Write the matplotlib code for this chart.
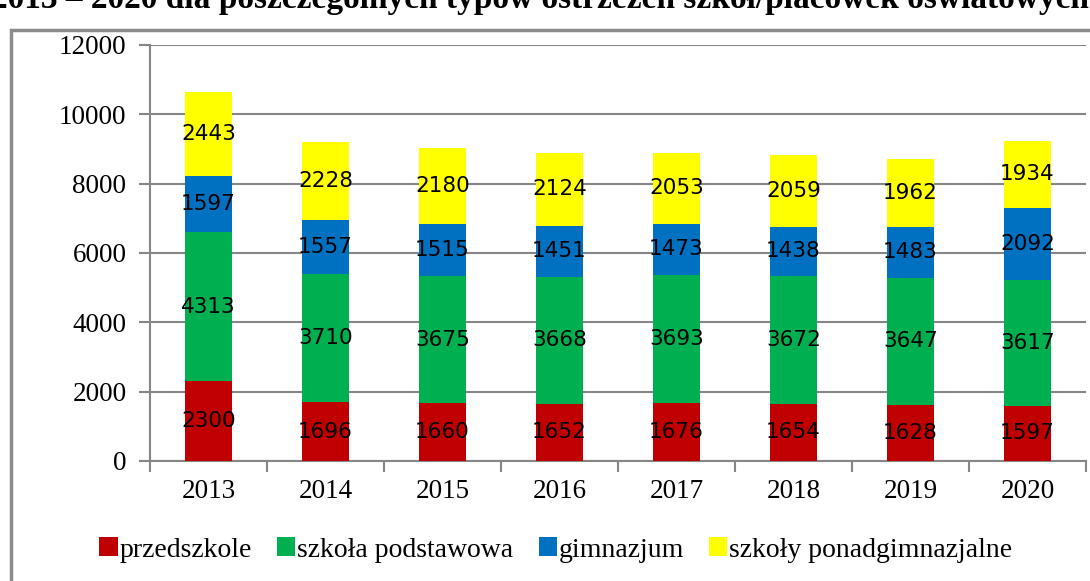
import matplotlib
matplotlib.use("Agg")
import matplotlib.pyplot as plt
import matplotlib.patches as mpatches
import numpy as np

# Data
years = ["2013", "2014", "2015", "2016", "2017", "2018", "2019", "2020"]
przedszkole = [2300, 1696, 1660, 1652, 1676, 1654, 1628, 1597]
szkola_podstawowa = [4313, 3710, 3675, 3668, 3693, 3672, 3647, 3617]
gimnazjum = [1597, 1557, 1515, 1451, 1473, 1438, 1483, 2092]
ponadgimnazjalne = [2443, 2228, 2180, 2124, 2053, 2059, 1962, 1934]

series_names = ["przedszkole", "szkoła podstawowa", "gimnazjum", "szkoły ponadgimnazjalne"]
series_colors = ["#C00000", "#00B050", "#0070C0", "#FFFF00"]
series = [przedszkole, szkola_podstawowa, gimnazjum, ponadgimnazjalne]

serif = ["Liberation Serif", "DejaVu Serif"]

fig = plt.figure(figsize=(10.9, 5.81), dpi=100)
ax = fig.add_axes([150 / 1090, 1 - 461 / 581, 936 / 1090, 416 / 581])

x = np.arange(len(years))
bottom = np.zeros(len(years))
for name, vals, col in zip(series_names, series, series_colors):
    vals = np.array(vals)
    ax.bar(x, vals, width=0.4, bottom=bottom, color=col, label=name, zorder=3)
    for xi, b, v in zip(x, bottom, vals):
        ax.text(xi, b + v / 2, str(v), ha="center", va="center",
                fontsize=15.5, family="DejaVu Sans", color="black", zorder=4)
    bottom += vals

ax.set_xlim(-0.5, len(years) - 0.5)
ax.set_ylim(0, 12000)
ax.set_yticks(range(0, 12001, 2000))
ax.set_yticklabels([str(v) for v in range(0, 12001, 2000)], family=serif, fontsize=19.5)
ax.yaxis.grid(True, color="#868686", linewidth=1.5, zorder=0)

ax.set_xticks(x)
ax.set_xticklabels(years, family=serif, fontsize=19.5)
ax.set_xticks(np.arange(-0.5, len(years)), minor=True)
ax.tick_params(axis="x", which="major", length=0, pad=13)
ax.tick_params(axis="x", which="minor", length=8, color="#868686", width=1.5)
ax.tick_params(axis="y", length=8, color="#868686", width=1.5, pad=9)

for s in ["top", "right"]:
    ax.spines[s].set_visible(False)
ax.spines["left"].set_color("#868686")
ax.spines["bottom"].set_color("#868686")
ax.spines["left"].set_linewidth(1.5)
ax.spines["bottom"].set_linewidth(1.5)

ax.legend(loc="center", bbox_to_anchor=(556 / 1090, 1 - 550 / 581),
          bbox_transform=fig.transFigure, ncol=4, frameon=False,
          prop={"family": serif, "size": 20}, handlelength=0.65, handleheight=0.65,
          handletextpad=0.08, columnspacing=0.9)

# outer frame (only left and top edges are inside the picture)
frame = mpatches.Rectangle((11 / 1090, -0.05), 1.2, 1 - 30 / 581 + 0.05,
                           transform=fig.transFigure, fill=False,
                           edgecolor="#8C8C8C", linewidth=2.5)
fig.patches.append(frame)

# title, cut off at the top of the picture
fig.text(-0.008, 1 - 8 / 581, "2013 – 2020 dla poszczególnych typów ostrzeżeń szkół/placówek oświatowych",
         ha="left", va="baseline", family=serif, fontsize=24, fontweight="bold")

fig.savefig("out.png", dpi=100)
